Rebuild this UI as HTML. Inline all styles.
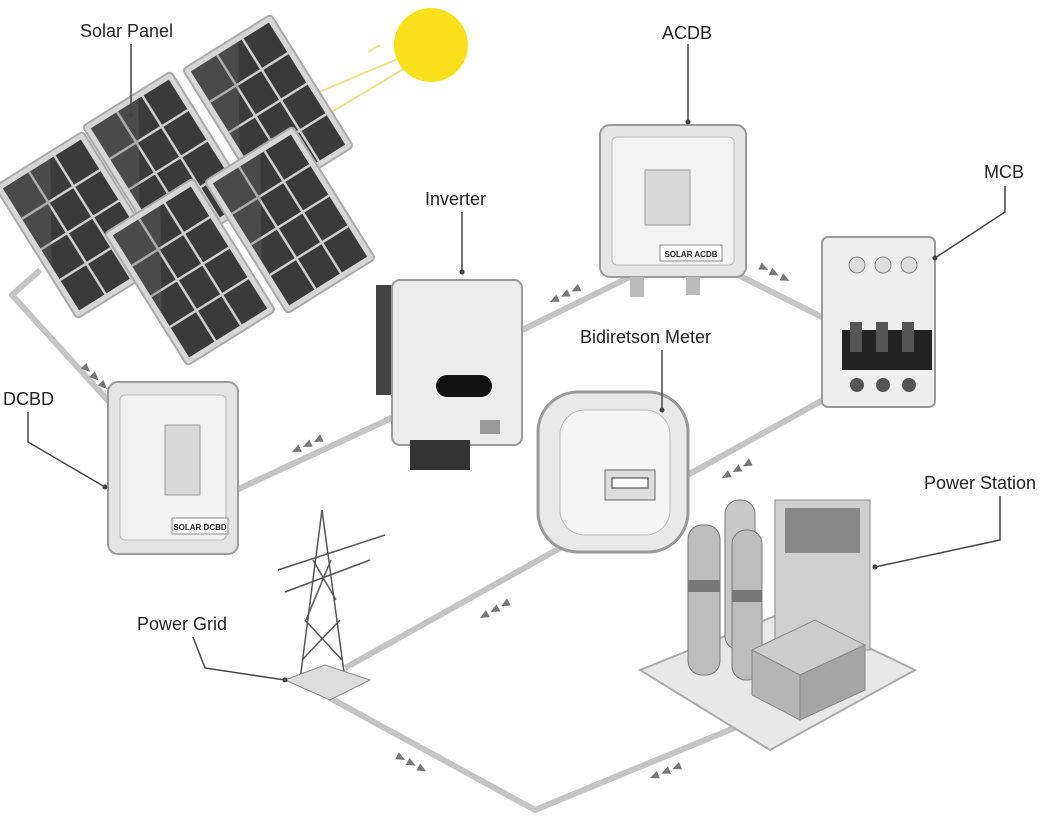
<!DOCTYPE html>
<html><head><meta charset="utf-8"><style>
body{margin:0;background:#fff;}
svg{display:block}
text{font-family:"Liberation Sans",sans-serif;font-size:18px;fill:#222;}
</style></head><body>
<svg width="1057" height="823" viewBox="0 0 1057 823" xmlns="http://www.w3.org/2000/svg">
<defs>
<g id="panel">
 <rect x="-52" y="-78" width="104" height="156" rx="4" fill="#d6d6d6" stroke="#aaa" stroke-width="2"/>
 <rect x="-46" y="-72" width="92" height="144" fill="#3a3a3a"/>
 <g stroke="#cfcfcf" stroke-width="2.5">
  <line x1="-46" y1="-36" x2="46" y2="-36"/><line x1="-46" y1="0" x2="46" y2="0"/><line x1="-46" y1="36" x2="46" y2="36"/>
  <line x1="-15" y1="-72" x2="-15" y2="72"/><line x1="15" y1="-72" x2="15" y2="72"/>
 </g>
 <polygon points="-46,-72 10,-72 -46,20" fill="#6a6a6a" opacity="0.35"/>
</g>
<g id="arr"><polygon points="0,0 9,-4 9,4" fill="#777"/><polygon points="12,0 21,-4 21,4" fill="#777"/><polygon points="24,0 33,-4 33,4" fill="#777"/></g>
<g id="arr2"><polygon points="0,0 -9,-4 -9,4" fill="#777"/><polygon points="12,0 3,-4 3,4" fill="#777"/><polygon points="24,0 15,-4 15,4" fill="#777"/></g>
</defs>

<!-- connectors -->
<g fill="none" stroke="#c4c4c4" stroke-width="6" stroke-linejoin="round">
 <polyline points="40,270 12,295 112,405"/>
 <line x1="232" y1="492" x2="398" y2="415"/>
 <line x1="518" y1="332" x2="640" y2="272"/>
 <line x1="712" y1="262" x2="832" y2="322"/>
 <line x1="832" y1="395" x2="675" y2="482"/>
 <line x1="578" y1="538" x2="345" y2="668"/>
 <polyline points="330,698 535,810 790,705"/>
</g>
<!-- arrowheads -->
<use href="#arr2" transform="translate(90,372) rotate(45)"/>
<use href="#arr" transform="translate(292,452) rotate(-25)"/>
<use href="#arr" transform="translate(550,302) rotate(-26)"/>
<use href="#arr2" transform="translate(768,270) rotate(27)"/>
<use href="#arr" transform="translate(722,478) rotate(-29)"/>
<use href="#arr" transform="translate(480,618) rotate(-29)"/>
<use href="#arr2" transform="translate(405,760) rotate(28)"/>
<use href="#arr" transform="translate(650,778) rotate(-22)"/>

<!-- sun -->
<g stroke="#f2e18a" stroke-width="2">
 <line x1="400" y1="58" x2="300" y2="100"/><line x1="405" y1="68" x2="310" y2="125"/><line x1="380" y1="45" x2="368" y2="52"/>
</g>
<circle cx="431" cy="45" r="37" fill="#f9e01a"/>
<!-- solar panels -->
<use href="#panel" transform="translate(80,225) rotate(-32)"/>
<use href="#panel" transform="translate(168,165) rotate(-32)"/>
<use href="#panel" transform="translate(268,108) rotate(-32)"/>
<use href="#panel" transform="translate(190,272) rotate(-32)"/>
<use href="#panel" transform="translate(290,220) rotate(-32)"/>

<!-- DCBD -->
<rect x="108" y="382" width="130" height="172" rx="10" fill="#e4e4e4" stroke="#9a9a9a" stroke-width="2"/>
<rect x="120" y="395" width="106" height="145" rx="5" fill="#f2f2f2" stroke="#bbb"/>
<rect x="165" y="425" width="35" height="70" fill="#d8d8d8" stroke="#999"/>
<rect x="172" y="518" width="56" height="16" fill="#fff" stroke="#888"/>
<text x="200" y="530" text-anchor="middle" style="font-size:8px;font-weight:bold">SOLAR DCBD</text>

<!-- Inverter -->
<rect x="376" y="285" width="20" height="110" fill="#444"/>
<rect x="392" y="280" width="130" height="165" rx="8" fill="#ececec" stroke="#9a9a9a" stroke-width="2"/>
<rect x="436" y="375" width="56" height="22" rx="11" fill="#111"/>
<rect x="410" y="440" width="60" height="30" fill="#333"/>
<rect x="480" y="420" width="20" height="14" fill="#999"/>

<!-- ACDB -->
<rect x="600" y="125" width="146" height="152" rx="10" fill="#e6e6e6" stroke="#9a9a9a" stroke-width="2"/>
<rect x="612" y="137" width="122" height="128" rx="5" fill="#f3f3f3" stroke="#bbb"/>
<rect x="645" y="170" width="45" height="55" fill="#d9d9d9" stroke="#999"/>
<rect x="660" y="245" width="62" height="16" fill="#fff" stroke="#888"/>
<text x="691" y="257" text-anchor="middle" style="font-size:8px;font-weight:bold">SOLAR ACDB</text>
<rect x="630" y="277" width="14" height="20" fill="#bbb"/><rect x="686" y="277" width="14" height="18" fill="#bbb"/>

<!-- MCB -->
<rect x="822" y="237" width="113" height="170" rx="6" fill="#efefef" stroke="#999" stroke-width="2"/>
<circle cx="857" cy="265" r="8" fill="#ddd" stroke="#888"/><circle cx="883" cy="265" r="8" fill="#ddd" stroke="#888"/><circle cx="909" cy="265" r="8" fill="#ddd" stroke="#888"/>
<rect x="842" y="330" width="90" height="40" fill="#222"/>
<rect x="850" y="322" width="12" height="30" fill="#555"/><rect x="876" y="322" width="12" height="30" fill="#555"/><rect x="902" y="322" width="12" height="30" fill="#555"/>
<circle cx="857" cy="385" r="7" fill="#555"/><circle cx="883" cy="385" r="7" fill="#555"/><circle cx="909" cy="385" r="7" fill="#555"/>

<!-- Meter -->
<rect x="538" y="392" width="150" height="160" rx="40" fill="#e9e9e9" stroke="#999" stroke-width="3"/>
<rect x="560" y="410" width="110" height="125" rx="25" fill="#f5f5f5" stroke="#bbb"/>
<rect x="605" y="470" width="50" height="30" fill="#ddd" stroke="#666"/>
<rect x="612" y="478" width="36" height="10" fill="#fff" stroke="#333"/>

<!-- Tower -->
<g stroke="#555" stroke-width="1.5" fill="none">
 <polygon points="322,510 300,680 345,680"/>
 <line x1="313" y1="560" x2="336" y2="600"/><line x1="331" y1="560" x2="306" y2="620"/>
 <line x1="305" y1="620" x2="342" y2="660"/><line x1="340" y1="620" x2="302" y2="660"/>
 <line x1="278" y1="570" x2="385" y2="535"/><line x1="285" y1="592" x2="370" y2="560"/>
</g>
<polygon points="285,680 325,665 370,680 330,700" fill="#ddd" stroke="#888"/>

<!-- Power station -->
<polygon points="640,670 790,610 915,670 770,750" fill="#e8e8e8" stroke="#aaa" stroke-width="2"/>
<rect x="775" y="500" width="95" height="150" fill="#cfcfcf" stroke="#888"/>
<rect x="785" y="508" width="75" height="45" fill="#888"/>
<rect x="688" y="525" width="32" height="150" rx="14" fill="#bdbdbd" stroke="#777"/>
<rect x="688" y="580" width="32" height="12" fill="#777"/>
<rect x="725" y="500" width="30" height="150" rx="14" fill="#c8c8c8" stroke="#777"/>
<rect x="732" y="530" width="30" height="150" rx="14" fill="#bdbdbd" stroke="#777"/>
<rect x="732" y="590" width="30" height="12" fill="#777"/>
<polygon points="752,650 815,620 865,645 800,675" fill="#ccc" stroke="#888"/>
<polygon points="752,650 800,675 800,720 752,695" fill="#b5b5b5" stroke="#888"/>
<polygon points="800,675 865,645 865,690 800,720" fill="#a5a5a5" stroke="#888"/>

<!-- labels & leaders -->
<g fill="none" stroke="#444" stroke-width="1.5">
 <line x1="131" y1="44" x2="131" y2="115"/>
 <line x1="688" y1="44" x2="688" y2="122"/>
 <polyline points="1005,186 1005,212 935,258"/>
 <line x1="462" y1="212" x2="462" y2="272"/>
 <line x1="662" y1="350" x2="662" y2="410"/>
 <polyline points="28,412 28,442 105,487"/>
 <polyline points="193,637 205,668 285,680"/>
 <polyline points="1000,496 1000,540 875,567"/>
</g>
<g fill="#444"><circle cx="131" cy="115" r="2.5"/><circle cx="688" cy="122" r="2.5"/><circle cx="935" cy="258" r="2.5"/><circle cx="462" cy="272" r="2.5"/><circle cx="662" cy="410" r="2.5"/><circle cx="105" cy="487" r="2.5"/><circle cx="285" cy="680" r="2.5"/><circle cx="875" cy="567" r="2.5"/></g>
<text x="80" y="37">Solar Panel</text>
<text x="662" y="39">ACDB</text>
<text x="984" y="178">MCB</text>
<text x="425" y="205">Inverter</text>
<text x="580" y="343">Bidiretson Meter</text>
<text x="3" y="405">DCBD</text>
<text x="137" y="630">Power Grid</text>
<text x="924" y="489">Power Station</text>
</svg>
</body></html>
